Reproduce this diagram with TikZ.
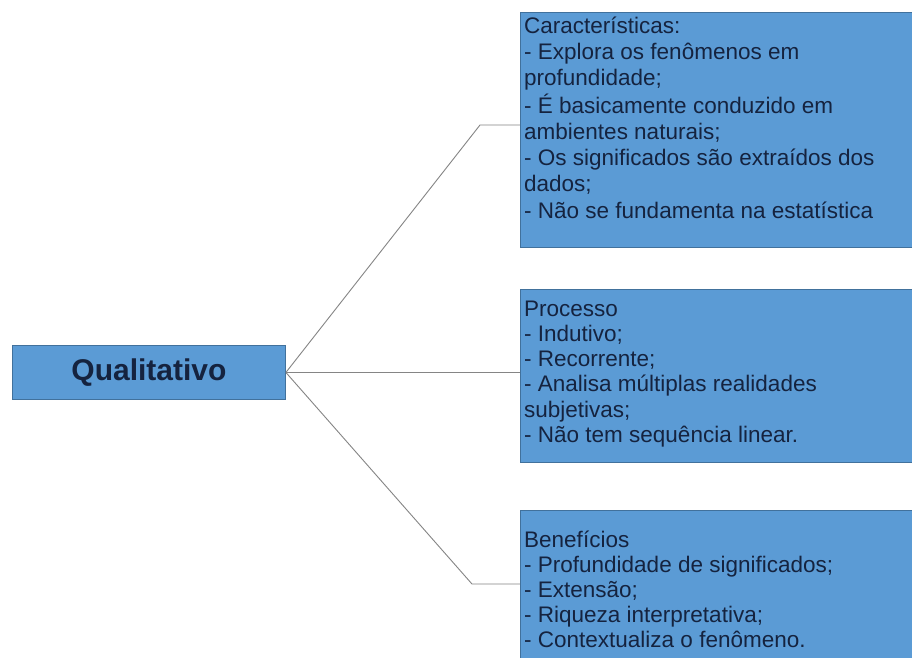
\documentclass[tikz,border=0pt]{standalone}
\usepackage{fontspec}
\setmainfont{Liberation Sans}
\definecolor{boxfill}{HTML}{5B9BD5}
\definecolor{boxline}{HTML}{41719C}
\definecolor{ink}{HTML}{15233F}
\definecolor{wire}{HTML}{858585}
\begin{document}
\begin{tikzpicture}[x=1pt,y=-1pt,
  box/.style={draw=boxline, fill=boxfill, line width=0.9pt, inner sep=0pt, anchor=north west},
  txt/.style={text=ink, inner sep=0pt, anchor=base west},
  conn/.style={draw=wire, line width=0.9pt}]
\useasboundingbox (0,0) rectangle (912,657);
\fill[white] (0,0) rectangle (912,657);

% central topic
\node[box, minimum width=273pt, minimum height=54pt, text=ink,
      font=\fontsize{30}{34}\selectfont\bfseries] (q) at (12,345) {Qualitativo};

% branch boxes
\node[box, minimum width=395pt, minimum height=235pt] (b1) at (520,12) {};
\node[box, minimum width=395pt, minimum height=173pt] (b2) at (520,289) {};
\node[box, minimum width=395pt, minimum height=160pt] (b3) at (520,510) {};

% branch texts
\node[txt, font=\fontsize{22.5}{26.3}\selectfont] (t1) at (524,33) {\begin{tabular}[t]{@{}l@{}}
Características:\\
- Explora os fenômenos em\\
profundidade;\\
- É basicamente conduzido em\\
ambientes naturais;\\
- Os significados são extraídos dos\\
dados;\\
- Não se fundamenta na estatística
\end{tabular}};
\node[txt, font=\fontsize{22.5}{25.3}\selectfont] (t2) at (524,316) {\begin{tabular}[t]{@{}l@{}}
Processo\\
- Indutivo;\\
- Recorrente;\\
- Analisa múltiplas realidades\\
subjetivas;\\
- Não tem sequência linear.
\end{tabular}};
\node[txt, font=\fontsize{22.5}{25}\selectfont] (t3) at (524,547) {\begin{tabular}[t]{@{}l@{}}
Benefícios\\
- Profundidade de significados;\\
- Extensão;\\
- Riqueza interpretativa;\\
- Contextualiza o fenômeno.
\end{tabular}};

% connectors
\coordinate (e1) at (480,125);
\coordinate (e3) at (472,584);
\draw[conn] (q.east) -- (e1) -- (e1 -| b1.west);
\draw[conn] (q.east) -- (q.east -| b2.west);
\draw[conn] (q.east) -- (e3) -- (e3 -| b3.west);
\end{tikzpicture}
\end{document}
